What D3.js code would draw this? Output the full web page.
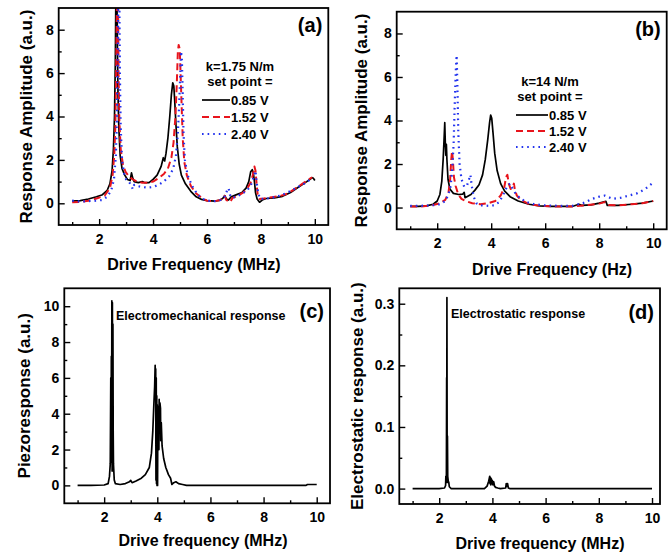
<!DOCTYPE html>
<html>
<head>
<meta charset="utf-8">
<script src="https://cdn.jsdelivr.net/npm/d3@7"></script>
<style>
  body { margin: 0; background: #fff; }
  svg { font-family: "Liberation Sans", Arial, sans-serif; font-weight: bold; }
</style>
</head>
<body>
<svg id="chart" width="671" height="556"></svg>
<script>
// ---- data ----
var xMajor = [2, 4, 6, 8, 10];
var xMinor = [1, 3, 5, 7, 9];
var setPoints = ["0.85 V", "1.52 V", "2.40 V"];

// (a) k=1.75 N/m
var a085 = [[1.0,0.1],[1.3,0.12],[1.6,0.2],[1.9,0.3],[2.1,0.38],[2.3,0.6],[2.4,0.9],[2.48,1.5],[2.53,2.5],[2.57,4],[2.6,6.5],[2.62,9.5],[2.66,9.5],[2.68,7],[2.7,5],[2.73,3.5],[2.78,2.2],[2.85,1.6],[2.95,1.3],[3.05,1.1],[3.15,1.05],[3.2,1.4],[3.25,1.15],[3.3,1.0],[3.45,0.95],[3.6,1.0],[3.7,0.95],[3.85,0.95],[4.0,1.1],[4.15,1.3],[4.3,1.7],[4.38,2.1],[4.43,1.95],[4.48,2.3],[4.55,3.0],[4.62,4.0],[4.68,5.0],[4.73,5.55],[4.77,5.4],[4.8,4.8],[4.85,3.6],[4.9,2.6],[4.97,1.8],[5.05,1.3],[5.2,0.9],[5.4,0.55],[5.6,0.3],[5.8,0.18],[6.0,0.12],[6.3,0.1],[6.5,0.15],[6.6,0.25],[6.66,0.35],[6.72,0.2],[6.8,0.15],[6.9,0.3],[7.1,0.4],[7.3,0.5],[7.45,0.7],[7.55,1.0],[7.62,1.45],[7.68,1.55],[7.72,1.4],[7.76,1.0],[7.8,0.5],[7.86,0.2],[7.95,0.05],[8.05,0.15],[8.2,0.22],[8.5,0.25],[8.8,0.32],[9.1,0.5],[9.4,0.75],[9.7,1.0],[9.9,1.18],[9.95,1.15],[10.0,1.05]];
var a152 = [[1.0,0.05],[1.3,0.06],[1.6,0.12],[1.9,0.22],[2.2,0.35],[2.4,0.7],[2.5,1.3],[2.56,2.2],[2.6,3.5],[2.63,6],[2.66,9.5],[2.7,9.5],[2.72,6],[2.75,3.8],[2.8,2.5],[2.88,1.8],[2.98,1.45],[3.1,1.25],[3.25,1.1],[3.4,1.0],[3.6,0.95],[3.8,0.95],[4.0,1.0],[4.2,1.15],[4.4,1.35],[4.55,1.6],[4.68,2.1],[4.76,2.8],[4.83,4.0],[4.88,5.5],[4.92,7.0],[4.95,7.3],[4.99,7.1],[5.02,6.0],[5.06,4.5],[5.1,3.0],[5.16,1.9],[5.25,1.3],[5.4,0.8],[5.6,0.45],[5.8,0.25],[6.0,0.12],[6.3,0.1],[6.5,0.15],[6.6,0.3],[6.65,0.35],[6.72,0.15],[6.8,0.08],[6.85,0.05],[6.95,0.25],[7.15,0.35],[7.35,0.5],[7.5,0.7],[7.62,0.95],[7.7,1.3],[7.76,1.7],[7.8,1.5],[7.84,0.9],[7.88,0.4],[7.95,0.2],[8.1,0.22],[8.4,0.28],[8.7,0.33],[9.0,0.45],[9.3,0.7],[9.6,0.95],[9.9,1.2]];
var a240 = [[1.0,0.12],[1.3,0.08],[1.6,0.1],[1.9,0.12],[2.1,0.15],[2.3,0.3],[2.45,0.6],[2.55,1.1],[2.62,2.2],[2.66,4],[2.69,7],[2.71,9.5],[2.75,9.5],[2.77,6],[2.8,3.5],[2.85,2.0],[2.92,1.4],[3.0,1.1],[3.1,1.0],[3.2,0.8],[3.25,0.65],[3.3,0.85],[3.4,0.8],[3.6,0.75],[3.8,0.72],[4.0,0.75],[4.2,0.85],[4.4,1.0],[4.6,1.25],[4.75,1.6],[4.85,2.2],[4.92,3.2],[4.97,4.6],[5.01,6.0],[5.04,7.0],[5.07,6.6],[5.1,5.0],[5.13,3.2],[5.18,2.0],[5.28,1.3],[5.45,0.8],[5.65,0.4],[5.85,0.2],[6.05,0.12],[6.3,0.1],[6.5,0.15],[6.65,0.3],[6.75,0.6],[6.8,0.7],[6.85,0.4],[6.92,0.25],[7.1,0.3],[7.3,0.45],[7.5,0.6],[7.65,0.9],[7.75,1.3],[7.8,1.5],[7.84,1.0],[7.9,0.45],[7.98,0.2],[8.1,0.2],[8.4,0.25],[8.7,0.35],[9.0,0.5],[9.3,0.7],[9.6,0.9],[9.9,1.15]];

// (b) k=14 N/m
var b085 = [[1.0,0.05],[1.3,0.05],[1.6,0.08],[1.85,0.15],[2.0,0.3],[2.1,0.6],[2.17,1.2],[2.22,2.2],[2.26,3.3],[2.28,3.9],[2.3,3.0],[2.32,2.4],[2.34,2.9],[2.36,2.2],[2.4,1.3],[2.47,0.85],[2.6,0.65],[2.8,0.6],[2.95,0.62],[3.0,0.7],[3.03,0.45],[3.1,0.5],[3.25,0.6],[3.4,0.8],[3.55,1.05],[3.68,1.5],[3.78,2.2],[3.87,3.1],[3.94,3.9],[3.98,4.25],[4.02,4.1],[4.07,3.4],[4.13,2.5],[4.22,1.7],[4.35,1.1],[4.5,0.75],[4.7,0.5],[5.0,0.3],[5.4,0.15],[5.8,0.08],[6.2,0.05],[6.6,0.05],[7.0,0.05],[7.25,0.15],[7.35,0.1],[7.7,0.12],[8.0,0.2],[8.25,0.28],[8.3,0.1],[8.7,0.1],[9.2,0.15],[9.6,0.2],[10.0,0.3]];
var b152 = [[1.0,0.05],[1.4,0.05],[1.8,0.1],[2.1,0.2],[2.3,0.35],[2.42,0.7],[2.48,1.3],[2.52,2.2],[2.55,2.6],[2.58,2.2],[2.62,1.4],[2.68,1.0],[2.78,0.6],[2.9,0.4],[3.05,0.3],[3.3,0.2],[3.6,0.15],[3.9,0.2],[4.15,0.3],[4.35,0.55],[4.48,0.9],[4.55,1.4],[4.6,1.5],[4.65,1.1],[4.72,0.85],[4.8,0.95],[4.84,1.1],[4.88,0.8],[4.95,0.55],[5.1,0.35],[5.4,0.15],[5.8,0.08],[6.3,0.05],[7.0,0.05],[7.5,0.1],[8.0,0.18],[8.2,0.25],[8.35,0.12],[8.7,0.1],[9.2,0.15],[9.6,0.2],[10.0,0.3]];
var b240 = [[1.0,0.08],[1.4,0.08],[1.8,0.1],[2.1,0.15],[2.3,0.3],[2.42,0.6],[2.5,1.0],[2.56,1.8],[2.61,3.0],[2.65,4.8],[2.69,6.3],[2.72,7.0],[2.75,5.5],[2.78,3.5],[2.83,2.0],[2.9,1.3],[3.0,0.95],[3.1,1.0],[3.18,1.3],[3.23,1.5],[3.28,1.0],[3.35,0.5],[3.45,0.2],[3.6,0.1],[3.9,0.08],[4.1,0.1],[4.3,0.25],[4.45,0.6],[4.6,1.0],[4.7,1.1],[4.78,0.9],[4.9,0.65],[5.05,0.45],[5.3,0.25],[5.6,0.15],[6.0,0.1],[6.5,0.08],[7.0,0.08],[7.4,0.2],[7.75,0.4],[8.0,0.5],[8.2,0.55],[8.5,0.4],[8.8,0.45],[9.1,0.55],[9.4,0.65],[9.7,0.85],[10.0,1.15]];

// (c) piezoresponse
var cPiezo = [[1.0,0.0],[1.5,0.0],[2.0,0.02],[2.15,0.1],[2.2,0.5],[2.23,1.2],[2.25,6.0],[2.26,1.3],[2.27,7.2],[2.28,2.0],[2.29,10.3],[2.3,0.8],[2.31,10.2],[2.32,1.0],[2.33,9.0],[2.34,3.0],[2.35,1.2],[2.38,0.3],[2.42,0.1],[2.6,0.05],[2.8,0.1],[2.95,0.2],[3.0,0.28],[3.05,0.15],[3.2,0.25],[3.4,0.4],[3.55,0.6],[3.7,1.0],[3.78,1.8],[3.83,3.0],[3.87,4.5],[3.9,5.5],[3.92,6.7],[3.93,5.5],[3.94,6.5],[3.95,0.3],[3.96,6.0],[3.97,0.1],[3.98,5.0],[3.99,0.0],[4.0,4.5],[4.01,0.0],[4.02,4.0],[4.04,4.4],[4.06,2.0],[4.07,4.8],[4.09,3.0],[4.1,4.6],[4.12,4.3],[4.13,2.5],[4.15,3.5],[4.18,2.2],[4.24,1.5],[4.32,1.0],[4.42,0.6],[4.5,0.4],[4.55,0.05],[4.62,0.15],[4.7,0.2],[4.8,0.1],[4.95,0.05],[5.1,0.0],[6.0,0.0],[8.0,0.0],[9.6,0.0],[9.65,0.05],[10.0,0.05]];

// (d) electrostatic response
var dElec = [[1.0,0],[2.0,0],[2.2,0.001],[2.24,0.005],[2.25,0.02],[2.27,0.02],[2.28,0.18],[2.285,0.02],[2.29,0.31],[2.3,0.01],[2.31,0.085],[2.32,0.02],[2.34,0.012],[2.36,0.01],[2.38,0.003],[2.45,0],[3.7,0],[3.8,0.004],[3.86,0.012],[3.9,0.02],[3.91,0.008],[3.93,0.018],[3.94,0.006],[3.96,0.016],[3.98,0.008],[4.0,0.013],[4.02,0.006],[4.05,0.011],[4.08,0.004],[4.12,0.002],[4.2,0.001],[4.3,0],[4.5,0.001],[4.52,0.008],[4.55,0.004],[4.57,0.008],[4.6,0.001],[4.65,0],[10.0,0]];

// ---- styles ----
var styles = [
  { color: "#000", dash: null, width: 1.7 },
  { color: "#e8141c", dash: "7,4", width: 2 },
  { color: "#2233ee", dash: "1.6,4", width: 2.2 }
];

var svg = d3.select("#chart");

var panels = [
  { id: "a", x0: 58.7, y0: 8, x1: 328.3, y1: 225, xDom: [0.5, 10.5], yDom: [-1, 9],
    yMajor: [0,2,4,6,8], yMinor: [1,3,5,7], yFmt: d3.format("d"),
    series: [a085, a152, a240], tag: "(a)", tagY: 32,
    xTitle: "Drive Frequency (MHz)", xTitleX: 194, xTitleY: 270,
    yTitle: "Response Amplitude (a.u.)", yTitleX: 26,
    legend: { title1: "k=1.75 N/m", title2: "set point =", tx: 240, ty1: 71, ty2: 86,
              lx0: 202, lx1: 230, rows: [100, 117, 134] } },
  { id: "b", x0: 396.7, y0: 11.7, x1: 666.7, y1: 229.3, xDom: [0.5, 10.5], yDom: [-1, 9],
    yMajor: [0,2,4,6,8], yMinor: [1,3,5,7], yFmt: d3.format("d"),
    series: [b085, b152, b240], tag: "(b)", tagY: 36,
    xTitle: "Drive Frequency (Hz)", xTitleX: 552, xTitleY: 275,
    yTitle: "Response Amplitude (a.u.)", yTitleX: 361,
    legend: { title1: "k=14 N/m", title2: "set point =", tx: 550, ty1: 86, ty2: 101,
              lx0: 516, lx1: 548, rows: [115, 131, 147] } },
  { id: "c", x0: 64.3, y0: 288.3, x1: 330, y1: 503.3, xDom: [0.5, 10.5], yDom: [-1, 11],
    yMajor: [0,2,4,6,8,10], yMinor: [1,3,5,7,9], yFmt: d3.format("d"),
    series: [cPiezo], tag: "(c)", tagY: 318,
    xTitle: "Drive frequency (MHz)", xTitleX: 203, xTitleY: 546,
    yTitle: "Piezoresponse (a.u.)", yTitleX: 24,
    note: { text: "Electromechanical response", x: 116, y: 320 } },
  { id: "d", x0: 399.3, y0: 288.3, x1: 660, y1: 504, xDom: [0.5, 10.3], yDom: [-0.025, 0.325],
    yMajor: [0, 0.1, 0.2, 0.3], yMinor: [0.05, 0.15, 0.25], yFmt: d3.format(".1f"),
    series: [dElec], tag: "(d)", tagY: 319,
    xTitle: "Drive frequency (MHz)", xTitleX: 540, xTitleY: 549,
    yTitle: "Electrostatic response (a.u.)", yTitleX: 357,
    note: { text: "Electrostatic response", x: 451, y: 318 } }
];

panels.forEach(function(p) {
  var w = p.x1 - p.x0, h = p.y1 - p.y0;
  var x = d3.scaleLinear().domain(p.xDom).range([0, w]);
  var y = d3.scaleLinear().domain(p.yDom).range([h, 0]);

  var g = svg.append("g").attr("transform", "translate(" + p.x0 + "," + p.y0 + ")");

  g.append("clipPath").attr("id", "clip-" + p.id)
    .append("rect").attr("width", w).attr("height", h);

  // curves
  var line = d3.line().x(function(d) { return x(d[0]); }).y(function(d) { return y(d[1]); });
  var plot = g.append("g").attr("clip-path", "url(#clip-" + p.id + ")");
  p.series.forEach(function(s, i) {
    var st = styles[i];
    plot.append("path").datum(s)
      .attr("d", line)
      .attr("fill", "none")
      .attr("stroke", st.color)
      .attr("stroke-width", st.width)
      .attr("stroke-dasharray", st.dash)
      .attr("stroke-linejoin", "round");
  });

  // axes, inward ticks
  g.append("g").attr("transform", "translate(0," + h + ")")
    .call(d3.axisBottom(x).tickValues(xMajor).tickSize(-6).tickPadding(9).tickFormat(d3.format("d")));
  g.append("g").attr("transform", "translate(0," + h + ")")
    .call(d3.axisBottom(x).tickValues(xMinor).tickSize(-3).tickFormat(""));
  g.append("g")
    .call(d3.axisLeft(y).tickValues(p.yMajor).tickSize(-6).tickPadding(5).tickFormat(p.yFmt));
  g.append("g")
    .call(d3.axisLeft(y).tickValues(p.yMinor).tickSize(-3).tickFormat(""));

  g.selectAll(".domain").remove();
  g.selectAll(".tick line").attr("stroke", "#000").attr("stroke-width", 1.4);
  g.selectAll(".tick text").attr("font-size", 14).attr("font-family", null).attr("fill", "#000");

  g.append("rect").attr("width", w).attr("height", h)
    .attr("fill", "none").attr("stroke", "#000").attr("stroke-width", 1.8);

  // panel tag
  svg.append("text").attr("x", p.x1 - 6).attr("y", p.tagY)
    .attr("text-anchor", "end").attr("font-size", 20).text(p.tag);

  // axis titles
  svg.append("text").attr("x", p.xTitleX).attr("y", p.xTitleY)
    .attr("text-anchor", "middle").attr("font-size", 16).text(p.xTitle);
  svg.append("text")
    .attr("transform", "translate(" + p.yTitleX + "," + (p.y0 + h / 2) + ") rotate(-90)")
    .attr("text-anchor", "middle").attr("dy", "0.35em").attr("font-size", 17).text(p.yTitle);

  if (p.legend) {
    var L = p.legend;
    svg.append("text").attr("x", L.tx).attr("y", L.ty1).attr("text-anchor", "middle")
      .attr("font-size", 13).text(L.title1);
    svg.append("text").attr("x", L.tx).attr("y", L.ty2).attr("text-anchor", "middle")
      .attr("font-size", 13).text(L.title2);
    setPoints.forEach(function(lab, i) {
      var st = styles[i];
      svg.append("line").attr("x1", L.lx0).attr("x2", L.lx1)
        .attr("y1", L.rows[i]).attr("y2", L.rows[i])
        .attr("stroke", st.color).attr("stroke-width", st.width)
        .attr("stroke-dasharray", st.dash);
      svg.append("text").attr("x", L.lx1 + 1).attr("y", L.rows[i] + 4.5)
        .attr("font-size", 13).text(lab);
    });
  }

  if (p.note) {
    svg.append("text").attr("x", p.note.x).attr("y", p.note.y)
      .attr("font-size", 12.5).text(p.note.text);
  }
});
</script>
</body>
</html>
